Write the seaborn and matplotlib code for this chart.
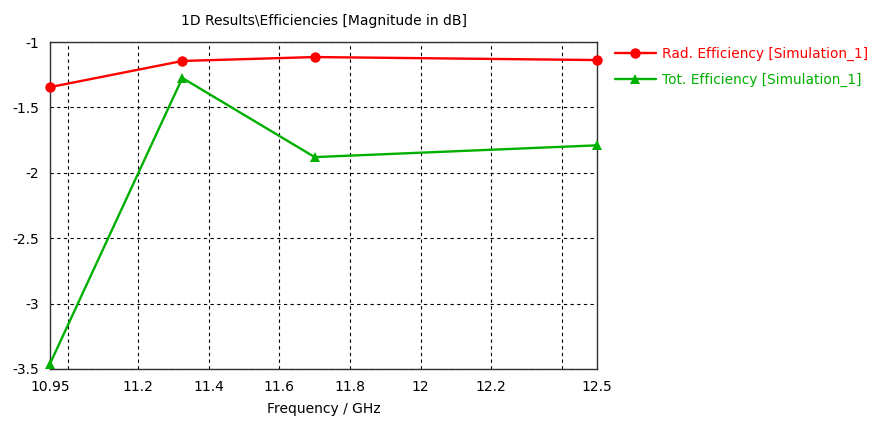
import matplotlib
matplotlib.use("Agg")
import matplotlib.pyplot as plt
import seaborn as sns
import pandas as pd

# Frequency samples (GHz) and efficiencies (dB)
freq_ghz = [10.95, 11.325, 11.7, 12.5]
rad_eff_db = [-1.345, -1.145, -1.115, -1.138]
tot_eff_db = [-3.46, -1.275, -1.88, -1.79]

series_labels = ["Rad. Efficiency [Simulation_1]", "Tot. Efficiency [Simulation_1]"]
series_colors = ["#ff0000", "#00b000"]
series_markers = ["o", "^"]

x_tick_values = [10.95, 11.2, 11.4, 11.6, 11.8, 12.0, 12.2, 12.5]
x_tick_labels = ["10.95", "11.2", "11.4", "11.6", "11.8", "12", "12.2", "12.5"]
x_grid_values = [11.0, 11.2, 11.4, 11.6, 11.8, 12.0, 12.2, 12.4]
y_tick_values = [-1, -1.5, -2, -2.5, -3, -3.5]
y_tick_labels = ["-1", "-1.5", "-2", "-2.5", "-3", "-3.5"]

df = pd.DataFrame({
    "freq": freq_ghz * 2,
    "eff": rad_eff_db + tot_eff_db,
    "series": [series_labels[0]] * len(freq_ghz) + [series_labels[1]] * len(freq_ghz),
})

sns.set_style("white")
plt.rcParams["font.family"] = ["DejaVu Sans"]
plt.rcParams["font.size"] = 10

fig = plt.figure(figsize=(8.74, 4.23), dpi=100)
ax = fig.add_axes([0.0572, 0.1277, 0.6259, 0.7730])

sns.lineplot(data=df, x="freq", y="eff", hue="series", style="series",
             palette=series_colors, markers=series_markers, dashes=False,
             markersize=7.5, markeredgewidth=0, linewidth=1.7, ax=ax, zorder=3)
for line in ax.get_lines():
    line.set_clip_on(False)

ax.set_xlim(10.95, 12.5)
ax.set_ylim(-3.5, -1)

ax.set_xticks(x_tick_values)
ax.set_xticklabels(x_tick_labels)
ax.xaxis.remove_overlapping_locs = False
ax.set_xticks(x_grid_values, minor=True)
ax.set_yticks(y_tick_values)
ax.set_yticklabels(y_tick_labels)

ax.grid(False)
ax.grid(True, which="minor", axis="x", linestyle=(0, (3, 3)), color="black", linewidth=0.8)
ax.grid(True, which="major", axis="y", linestyle=(0, (3, 3)), color="black", linewidth=0.8)
ax.tick_params(axis="x", which="minor", length=4, width=0.8, direction="out", color="#404040")
ax.tick_params(axis="x", which="major", length=4, width=0.8, direction="out",
               color="#404040", labelcolor="black", labelsize=10, pad=4)
ax.tick_params(axis="y", which="major", length=0, labelcolor="black", labelsize=10, pad=8)

for s in ax.spines.values():
    s.set_color("#303030")
    s.set_linewidth(1.0)

ax.set_xlabel("Frequency / GHz", fontsize=10, labelpad=6, color="black")
ax.set_ylabel("")
ax.set_title("1D Results\\Efficiencies [Magnitude in dB]", fontsize=10, pad=12, color="black")

leg = ax.legend(loc="upper left", bbox_to_anchor=(1.032, 0.985), frameon=False,
                fontsize=9.9, handlelength=3.0, handletextpad=0.45, labelspacing=0.85,
                borderpad=0, borderaxespad=0)
for text, color in zip(leg.get_texts(), series_colors):
    text.set_color(color)

fig.savefig("out.png", dpi=100)
